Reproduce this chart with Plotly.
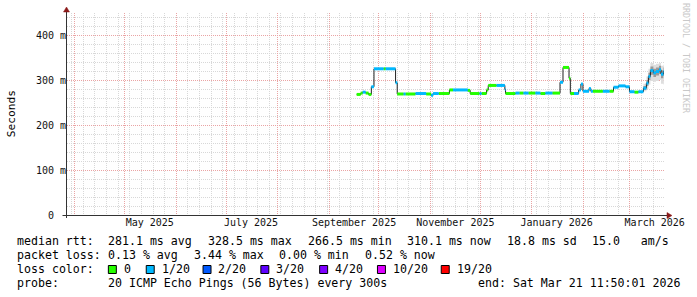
import plotly.graph_objects as go

# ---------------- data ----------------
seg_start = [
    "2025-09-17 14:00", "2025-09-20 00:00", "2025-09-21 05:00", "2025-09-23 00:00",
    "2025-09-24 18:00", "2025-09-26 10:00", "2025-09-28 00:00", "2025-10-03 20:00",
    "2025-10-05 00:00", "2025-10-11 00:00", "2025-10-12 00:00", "2025-10-15 20:00",
    "2025-10-17 00:00", "2025-10-23 00:00", "2025-10-29 10:00", "2025-11-01 10:00",
    "2025-11-02 14:00", "2025-11-06 00:00", "2025-11-12 10:00", "2025-11-14 14:00",
    "2025-11-23 10:00", "2025-11-24 22:00", "2025-11-30 14:00", "2025-12-01 19:00",
    "2025-12-04 19:00", "2025-12-05 19:00", "2025-12-10 19:00", "2025-12-15 19:00",
    "2025-12-16 05:00", "2025-12-22 05:00", "2025-12-24 14:00", "2025-12-27 00:00",
    "2025-12-30 00:00", "2026-01-03 05:00", "2026-01-06 05:00", "2026-01-09 05:00",
    "2026-01-13 10:00", "2026-01-18 00:00", "2026-01-19 19:00", "2026-01-23 10:00",
    "2026-01-24 05:00", "2026-01-26 10:00", "2026-01-29 05:00", "2026-01-30 14:00",
    "2026-01-31 19:00", "2026-02-04 10:00", "2026-02-05 14:00", "2026-02-06 19:00",
    "2026-02-12 19:00", "2026-02-16 19:00", "2026-02-19 05:00", "2026-02-22 05:00",
    "2026-02-26 10:00", "2026-02-28 19:00", "2026-03-03 19:00", "2026-03-06 05:00",
    "2026-03-09 05:00", "2026-03-11 00:00", "2026-03-12 05:00", "2026-03-13 10:00",
    "2026-03-15 05:00", "2026-03-16 19:00", "2026-03-18 14:00", "2026-03-19 19:00",
    "2026-03-21 05:00",
]
seg_rtt = [
    268, 271, 273, 271, 268, 285, 325, 325,
    325, 294, 269, 269, 269, 270, 269, 266,
    270, 270, 278, 278, 277, 270, 270, 270,
    278, 288, 288, 279, 270, 271, 271, 271,
    271, 271, 270, 271, 271, 295, 328, 304,
    270, 270, 278, 291, 275, 281, 275, 275,
    275, 275, 284, 287, 285, 274, 273, 274,
    282, 293, 308, 321, 316, 319, 323, 313,
    319,
]
seg_loss = [
    0, 0, 1, 0, 0, 1, 1, 0,
    1, 1, 0, 1, 0, 1, 0, 1,
    1, 0, 0, 1, 0, 0, 1, 0,
    0, 0, 1, 1, 0, 1, 0, 1,
    0, 1, 0, 1, 0, 1, 0, 0,
    0, 1, 1, 1, 1, 1, 1, 0,
    1, 0, 1, 1, 1, 1, 0, 1,
    1, 1, 1, 1, 1, 1, 1, 1,
    1,
]
data_end = "2026-03-21 11:50"

smoke_dates = ["2026-03-09 05:00", "2026-03-11 00:00", "2026-03-12 05:00", "2026-03-13 10:00",
               "2026-03-15 05:00", "2026-03-16 19:00", "2026-03-18 14:00", "2026-03-19 19:00",
               "2026-03-21 05:00"]
smoke_outer_lo = [275, 280, 290, 298, 296, 298, 300, 292, 290]
smoke_outer_hi = [292, 308, 325, 338, 334, 336, 338, 332, 334]
smoke_inner_lo = [278, 287, 300, 312, 307, 310, 314, 304, 309]
smoke_inner_hi = [287, 300, 316, 330, 325, 328, 332, 322, 328]

loss_bins = [0, 1, 2, 3, 4, 10, 19]
loss_labels = ["0", "1/20", "2/20", "3/20", "4/20", "10/20", "19/20"]
loss_colors = ["#26ff00", "#00b8ff", "#0059ff", "#5e00ff", "#7e00ff", "#dd00ff", "#ff0000"]

month_labels = ["May 2025", "July 2025", "September 2025", "November 2025",
                "January 2026", "March 2026"]
month_label_dates = ["2025-05-16", "2025-07-16", "2025-09-16", "2025-11-16",
                     "2026-01-16", "2026-03-16"]
y_tick_vals = [0, 100, 200, 300, 400]
y_tick_text = ["0\u00a0\u00a0", "100 m", "200 m", "300 m", "400 m"]

rtt_stats = ["281.1 ms avg", "328.5 ms max", "266.5 ms min", "310.1 ms now",
             "18.8 ms sd", "15.0   am/s"]
loss_stats = ["0.13 % avg", "3.44 % max", "0.00 % min", "0.52 % now"]
probe_text = "20 ICMP Echo Pings (56 Bytes) every 300s"
end_text = "end: Sat Mar 21 11:50:01 2026"

x_range = ["2025-03-27 04:48", "2026-03-22 04:48"]
y_range = [0, 449]

# ---------------- layout helpers ----------------
W, H = 697, 297
L, R, T, B = 67, 30, 13, 82
PW, PH = W - L - R, H - T - B
MONO = "DejaVu Sans Mono"


def px(x):
    return (x - L) / PW


def py(y):
    return (T + PH - y) / PH


fig = go.Figure()

# smoke
for lo, hi, col in [(smoke_outer_lo, smoke_outer_hi, "#dedede"),
                    (smoke_inner_lo, smoke_inner_hi, "#9a9a9a")]:
    xs = smoke_dates + [data_end]
    fig.add_trace(go.Scatter(x=xs, y=lo + [lo[-1]], mode="lines", line=dict(width=0, shape="hv"),
                             hoverinfo="skip", showlegend=False))
    fig.add_trace(go.Scatter(x=xs, y=hi + [hi[-1]], mode="lines", line=dict(width=0, shape="hv"),
                             fill="tonexty", fillcolor=col, hoverinfo="skip", showlegend=False))

# median black line
fig.add_trace(go.Scatter(x=seg_start + [data_end], y=seg_rtt + [seg_rtt[-1]], mode="lines",
                         line=dict(color="#202020", width=1, shape="hv"),
                         hoverinfo="skip", showlegend=False))

# loss-coloured bands
seg_end = seg_start[1:] + [data_end]


def bin_of(loss):
    idx = 0
    for i, b in enumerate(loss_bins):
        if loss >= b:
            idx = i
    return idx


for bi, col in enumerate(loss_colors):
    xs, ys = [], []
    for i in range(len(seg_start)):
        if bin_of(seg_loss[i]) == bi:
            xs += [seg_start[i], seg_end[i], None]
            ys += [seg_rtt[i], seg_rtt[i], None]
    if xs:
        fig.add_trace(go.Scatter(x=xs, y=ys, mode="lines", line=dict(color=col, width=3),
                                 hoverinfo="skip", showlegend=False, connectgaps=False))

# dummy trace on the label axes
fig.add_trace(go.Scatter(x=[month_label_dates[0]], y=[0], xaxis="x2", yaxis="y2",
                         mode="markers", marker=dict(opacity=0), hoverinfo="skip",
                         showlegend=False))

GRID = "#d8d8d8"
MGRID = "#eaa4a4"

fig.update_layout(
    width=W, height=H, autosize=False,
    margin=dict(l=L, r=R, t=T, b=B, pad=0),
    paper_bgcolor="white", plot_bgcolor="white",
    font=dict(family=MONO, size=10, color="#111"),
    xaxis=dict(type="date", range=x_range, showticklabels=False, ticks="",
               tick0="2025-04-01", dtick="M1", showgrid=True, gridcolor=MGRID,
               griddash="1px,1px", gridwidth=1, zeroline=False, showline=False,
               minor=dict(tick0="2025-03-30", dtick=7 * 86400000, showgrid=True,
                          gridcolor=GRID, griddash="1px,1px", gridwidth=1)),
    yaxis=dict(range=y_range, showticklabels=False, ticks="", tick0=0, dtick=100,
               showgrid=True, gridcolor=MGRID, griddash="1px,1px", gridwidth=1,
               zeroline=False, showline=False,
               minor=dict(tick0=0, dtick=20, showgrid=True, gridcolor=GRID,
                          griddash="1px,1px", gridwidth=1)),
    xaxis2=dict(type="date", range=x_range, overlaying="x", side="bottom", anchor="y",
                tickmode="array", tickvals=month_label_dates, ticktext=month_labels,
                showgrid=False, zeroline=False, showline=False, ticks="",
                tickfont=dict(family=MONO, size=10, color="#111")),
    yaxis2=dict(range=y_range, overlaying="y", side="left", anchor="x",
                tickmode="array", tickvals=y_tick_vals, ticktext=y_tick_text,
                showgrid=False, zeroline=False, showline=False, ticks="",
                tickfont=dict(family=MONO, size=10, color="#111")),
)

shapes = []
AX = "#333333"
ARROW = "#8b1a1a"
# axis lines
shapes.append(dict(type="line", xref="paper", yref="paper", x0=px(62.5), x1=px(670),
                   y0=py(215.5), y1=py(215.5), line=dict(color=AX, width=1)))
shapes.append(dict(type="line", xref="paper", yref="paper", x0=px(66.5), x1=px(66.5),
                   y0=py(218), y1=py(10), line=dict(color=AX, width=1)))
# arrows
shapes.append(dict(type="path", xref="paper", yref="paper",
                   path=f"M {px(669)} {py(212.5)} L {px(674)} {py(215.5)} L {px(669)} {py(218.5)} Z",
                   fillcolor=ARROW, line=dict(color=ARROW, width=0.5)))
shapes.append(dict(type="path", xref="paper", yref="paper",
                   path=f"M {px(63.5)} {py(12)} L {px(66.5)} {py(7)} L {px(69.5)} {py(12)} Z",
                   fillcolor=ARROW, line=dict(color=ARROW, width=0.5)))

ann = []
LEG = 11.6


def txt(x, y, s, size=LEG, color="#000", anchor="left", angle=0):
    ann.append(dict(x=px(x), y=py(y), xref="paper", yref="paper", text=s, showarrow=False,
                    xanchor=anchor, yanchor="middle", textangle=angle,
                    font=dict(family=MONO, size=size, color=color), borderpad=0))


rows_y = [241, 255, 269, 283]
rtt_x = [107, 207, 308, 407, 507, 593]
lossstat_x = [107, 193, 279, 365]
box_x = [108, 146, 203, 261, 320, 378, 442]

txt(16, rows_y[0], "median rtt:")
for s, x in zip(rtt_stats, rtt_x):
    txt(x, rows_y[0], s.replace(" ", "\u00a0"))
txt(16, rows_y[1], "packet loss:")
for s, x in zip(loss_stats, lossstat_x):
    txt(x, rows_y[1], s.replace(" ", "\u00a0"))
txt(16, rows_y[2], "loss color:")
for lab, col, x in zip(loss_labels, loss_colors, box_x):
    shapes.append(dict(type="rect", xref="paper", yref="paper", x0=px(x + 0.5), x1=px(x + 8.5),
                       y0=py(265.5), y1=py(273.5), fillcolor=col,
                       line=dict(color="#000", width=1)))
    txt(x + 15, rows_y[2], lab)
txt(16, rows_y[3], "probe:")
txt(107, rows_y[3], probe_text)
txt(478, rows_y[3], end_text)

# y-axis title and watermark
txt(11, 114, "Seconds", size=11.2, anchor="center", angle=-90)
txt(688, 58, "RRDTOOL / TOBI OETIKER", size=8.3, color="#c8c8c8", anchor="center", angle=90)

fig.update_layout(shapes=shapes, annotations=ann)
fig.write_html("out.html")
